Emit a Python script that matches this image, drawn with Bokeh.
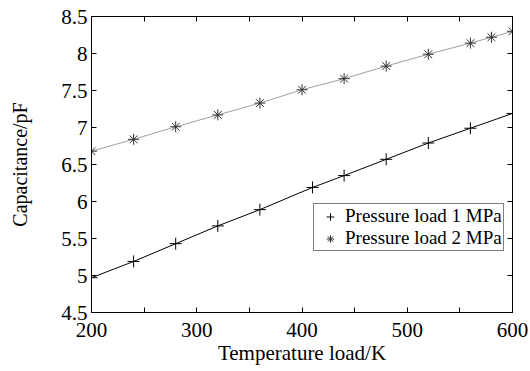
from bokeh.plotting import figure
from bokeh.models import LinearAxis, Range1d, FixedTicker, Legend, LegendItem
from bokeh.embed import file_html
from bokeh.resources import INLINE

temp1 = [200, 240, 280, 320, 360, 410, 440, 480, 520, 560, 600]
cap1 = [4.97, 5.19, 5.43, 5.67, 5.89, 6.19, 6.35, 6.57, 6.79, 6.99, 7.19]
temp2 = [200, 240, 280, 320, 360, 400, 440, 480, 520, 560, 580, 600]
cap2 = [6.68, 6.84, 7.01, 7.17, 7.33, 7.51, 7.66, 7.83, 7.99, 8.14, 8.22, 8.30]
labels = ["Pressure load 1 MPa", "Pressure load 2 MPa"]
x_ticks = [200, 250, 300, 350, 400, 450, 500, 550, 600]
y_ticks = [4.5, 5, 5.5, 6, 6.5, 7, 7.5, 8, 8.5]

FONT = "Liberation Serif"

p = figure(width=530, height=371, output_backend="svg", toolbar_location=None,
           x_range=Range1d(200, 600), y_range=Range1d(4.5, 8.5),
           min_border_left=91, min_border_right=18, min_border_top=16, min_border_bottom=59,
           frame_width=421, frame_height=296)
p.outline_line_color = "black"
p.outline_line_width = 1
p.grid.visible = False
p.background_fill_color = "white"
p.border_fill_color = "white"

l1 = p.line(temp1, cap1, line_color="black", line_width=1)
m1 = p.scatter(temp1, cap1, marker="cross", size=12, line_color="black", line_width=1)
l2 = p.line(temp2, cap2, line_color="#a0a0a0", line_width=1)
m2 = p.scatter(temp2, cap2, marker="asterisk", size=11, line_color="#333333", line_width=1)

xover = {t: (str(t) if t % 100 == 0 else "") for t in x_ticks}
yover = {t: ("%g" % t) for t in y_ticks}

def style(ax, ticks, show_labels, over=None):
    ax.ticker = FixedTicker(ticks=ticks)
    ax.major_tick_in = 5
    ax.major_tick_out = 0
    ax.minor_tick_in = 0
    ax.minor_tick_out = 0
    ax.axis_line_color = "black"
    ax.major_tick_line_color = "black"
    ax.major_label_text_font = FONT
    ax.major_label_text_font_size = "21px"
    ax.major_label_text_color = "black"
    ax.axis_label_text_font = FONT
    ax.axis_label_text_font_size = "21px"
    ax.axis_label_text_font_style = "normal"
    ax.axis_label_text_color = "black"
    if over:
        ax.major_label_overrides = over
    if not show_labels:
        ax.major_label_text_font_size = "0px"
        ax.major_label_text_alpha = 0

xa = p.xaxis[0]
ya = p.yaxis[0]
style(xa, x_ticks, True, xover)
style(ya, y_ticks, True, yover)
ya.axis_label_text_font_size = "20px"
xa.major_label_standoff = 10
ya.major_label_standoff = 4
xa.axis_label = "Temperature load/K"
ya.axis_label = "Capacitance/pF"
xa.axis_label_standoff = 1
ya.axis_label_standoff = 27

top = LinearAxis()
right = LinearAxis()
style(top, x_ticks, False)
style(right, y_ticks, False)
p.add_layout(top, "above")
p.add_layout(right, "right")

legend = Legend(items=[LegendItem(label=labels[0], renderers=[m1]),
                       LegendItem(label=labels[1], renderers=[m2])],
                location=(222, 61))
legend.label_text_font = FONT
legend.label_text_font_size = "19px"
legend.label_text_color = "black"
legend.border_line_color = "black"
legend.border_line_width = 1
legend.padding = 1
legend.spacing = 0
legend.margin = 0
legend.glyph_width = 30
legend.label_standoff = 0
legend.label_height = 19
legend.glyph_height = 19
p.add_layout(legend, "center")

open("out.html", "w").write(file_html(p, INLINE))
